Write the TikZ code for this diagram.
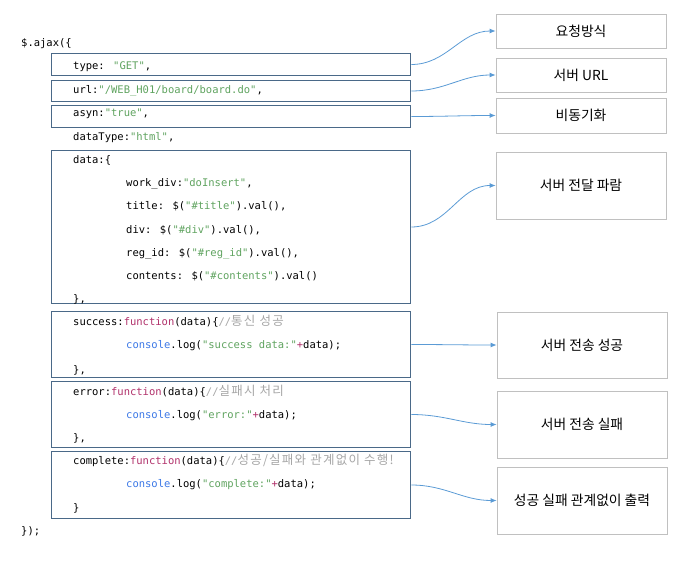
\documentclass[tikz,border=0pt]{standalone}
\usepackage{fontspec}
\usepackage{xcolor}
\usetikzlibrary{arrows.meta}
\usetikzlibrary{positioning}
\newfontfamily\codefont{DejaVu Sans Mono}
\newfontfamily\krfont{Noto Sans CJK KR}
\newfontfamily\krcmtfont[LetterSpace=10]{Noto Sans CJK KR}
\definecolor{boxline}{HTML}{4A6988}
\definecolor{infoline}{HTML}{C0C0C0}
\definecolor{arrowline}{HTML}{5B9BD5}
\definecolor{jsgreen}{HTML}{5FA35F}
\definecolor{jspink}{HTML}{B0306A}
\definecolor{jsblue}{HTML}{3C78E6}
\definecolor{jsgray}{HTML}{A6A6A6}
\newcommand{\jsstr}[1]{\textcolor{jsgreen}{#1}}
\newcommand{\jskw}[1]{\textcolor{jspink}{#1}}
\newcommand{\jsobj}[1]{\textcolor{jsblue}{#1}}
\newcommand{\jscmt}[1]{\textcolor{jsgray}{//{\krcmtfont\fontsize{12.5}{14}\selectfont #1}}}
\begin{document}
\begin{tikzpicture}[x=1pt,y=-1pt,->,>={Latex[length=6pt,width=5pt]}]
				\tikzset{codebox/.style = {shape=rectangle, draw=boxline, line width=1.6pt, minimum width=359pt},
					infobox/.style = {shape=rectangle, draw=infoline, line width=0.8pt, minimum width=170pt, font=\krfont\fontsize{13.8}{16}\selectfont},
					codeline/.style = {anchor=base west, inner sep=0pt, font=\codefont\fontsize{10.5}{12}\selectfont},
					link/.style = {draw=arrowline, line width=0.8pt}}
				\useasboundingbox (0,0) rectangle (684,567);
				
				% code boxes
				\node[codebox, minimum height=22pt] (TYPE) at (231,64.5) {};
				\node[codebox, minimum height=21pt] (URL) at (231,91) {};
				\node[codebox, minimum height=22pt] (ASYN) at (231,116.5) {};
				\node[codebox, minimum height=153pt] (DATA) at (231,227) {};
				\node[codebox, minimum height=66pt] (SUCCESS) at (231,344.5) {};
				\node[codebox, minimum height=66pt] (ERROR) at (231,414.5) {};
				\node[codebox, minimum height=67pt] (COMPLETE) at (231,485) {};
				
				% code lines
				\node[codeline] (L1) at (21,47) {\$.ajax(\{};
				\node[codeline] (L2) at (73,70) {type: \jsstr{"GET"},};
				\node[codeline] (L3) at (73,93) {url:\jsstr{"/WEB\_H01/board/board.do"},};
				\node[codeline] (L4) at (73,117) {asyn:\jsstr{"true"},};
				\node[codeline] (L5) at (73,140) {dataType:\jsstr{"html"},};
				\node[codeline] (L6) at (73,163) {data:\{};
				\node[codeline] (L7) at (126,186) {work\_div:\jsstr{"doInsert"},};
				\node[codeline] (L8) at (126,209) {title: \$(\jsstr{"\#title"}).val(),};
				\node[codeline] (L9) at (126,233) {div: \$(\jsstr{"\#div"}).val(),};
				\node[codeline] (L10) at (126,256) {reg\_id: \$(\jsstr{"\#reg\_id"}).val(),};
				\node[codeline] (L11) at (126,279) {contents: \$(\jsstr{"\#contents"}).val()};
				\node[codeline] (L12) at (73,302) {\},};
				\node[codeline] (L13) at (73,325) {success:\jskw{function}(data)\{\jscmt{통신 성공}};
				\node[codeline] (L14) at (126,348) {\jsobj{console}.log(\jsstr{"success data:"}\jskw{+}data);};
				\node[codeline] (L15) at (73,373) {\},};
				\node[codeline] (L16) at (73,395) {error:\jskw{function}(data)\{\jscmt{실패시 처리}};
				\node[codeline] (L17) at (126,418) {\jsobj{console}.log(\jsstr{"error:"}\jskw{+}data);};
				\node[codeline] (L18) at (73,441) {\},};
				\node[codeline] (L19) at (73,464) {complete:\jskw{function}(data)\{\jscmt{성공/실패와 관계없이 수행!}};
				\node[codeline] (L20) at (126,487) {\jsobj{console}.log(\jsstr{"complete:"}\jskw{+}data);};
				\node[codeline] (L21) at (73,511) {\}};
				\node[codeline] (L22) at (21,534) {\});};
				
				% explanation boxes
				\node[infobox, minimum height=34pt] (TYPEINFO) at (581,31) {요청방식};
				\node[infobox, minimum height=34pt] (URLINFO) at (581,75) {서버 URL};
				\node[infobox, minimum height=35pt] (ASYNINFO) at (581,115.5) {비동기화};
				\node[infobox, minimum height=67pt] (DATAINFO) at (581,185.5) {서버 전달 파람};
				\node[infobox, minimum height=66pt] (SUCCESSINFO) at (582,345) {서버 전송 성공};
				\node[infobox, minimum height=67pt] (ERRORINFO) at (582,424.5) {서버 전송 실패};
				\node[infobox, minimum height=67pt] (COMPLETEINFO) at (582,500.5) {성공 실패 관계없이 출력};
				
				\foreach \from/\to in {TYPE/TYPEINFO, URL/URLINFO, ASYN/ASYNINFO, DATA/DATAINFO, SUCCESS/SUCCESSINFO, ERROR/ERRORINFO, COMPLETE/COMPLETEINFO}
				\draw[link] (\from.east) to[out=0,in=180] (\to.west);
				
				\end{tikzpicture}
\end{document}
